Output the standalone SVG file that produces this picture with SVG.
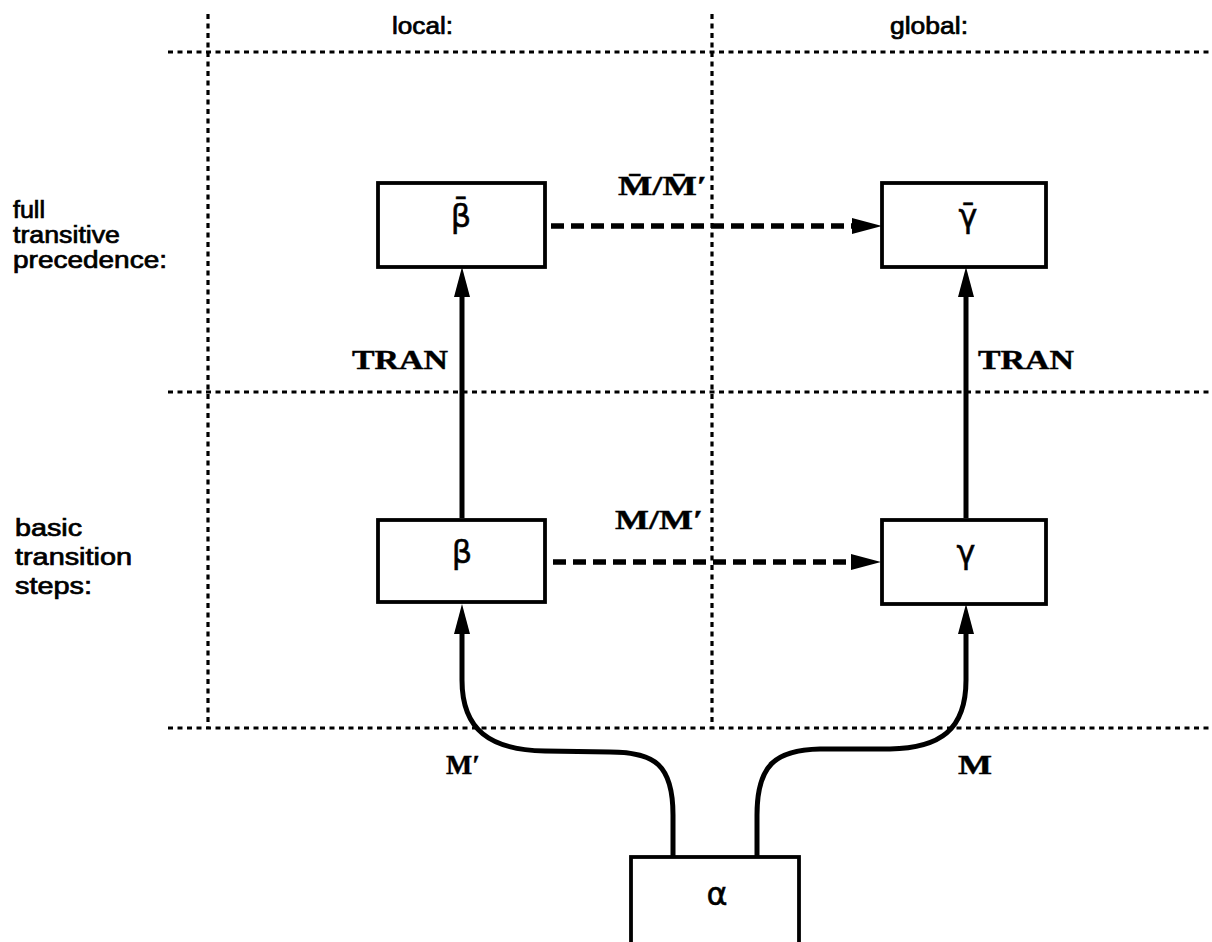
<svg xmlns="http://www.w3.org/2000/svg" width="1212" height="942" viewBox="0 0 1212 942">
<style>
.grid{stroke:#000;stroke-width:3.2;stroke-dasharray:5 4.5;fill:none}
.box{fill:#fff;stroke:#000;stroke-width:3.8}
.sans{font-family:"Liberation Sans",Arial,sans-serif;font-size:23px;fill:#000;stroke:#000;stroke-width:0.7}
.ser{font-family:"Liberation Serif","Times New Roman",serif;font-weight:bold;font-size:28px;fill:#000;stroke:#000;stroke-width:0.4}
.greek{font-family:"DejaVu Sans",sans-serif;font-size:32px;fill:#000;text-anchor:middle;stroke:#000;stroke-width:0.5}
.solid{stroke:#000;stroke-width:5;fill:none}
.dash{stroke:#000;stroke-width:5.5;stroke-dasharray:13 7;fill:none}
</style>
<defs>
<marker id="ah" viewBox="0 0 30 16" refX="10" refY="8" markerWidth="30" markerHeight="16" markerUnits="userSpaceOnUse" orient="auto">
<path d="M0,0 L30,8 L0,16 z" fill="#000"/>
</marker>
</defs>
<g id="grid">
<line class="grid" x1="168" y1="52" x2="1212" y2="52"/>
<line class="grid" x1="168" y1="392" x2="1212" y2="392"/>
<line class="grid" x1="168" y1="728" x2="1212" y2="728"/>
<line class="grid" x1="208" y1="14" x2="208" y2="728"/>
<line class="grid" x1="712" y1="14" x2="712" y2="728"/>
</g>
<g id="labels">
<text class="sans" x="392" y="34" textLength="61" lengthAdjust="spacingAndGlyphs">local:</text>
<text class="sans" x="890" y="34" textLength="78" lengthAdjust="spacingAndGlyphs">global:</text>
<text class="sans" x="13" y="218" textLength="32" lengthAdjust="spacingAndGlyphs">full</text>
<text class="sans" x="13" y="243" textLength="107" lengthAdjust="spacingAndGlyphs">transitive</text>
<text class="sans" x="13" y="268" textLength="154" lengthAdjust="spacingAndGlyphs">precedence:</text>
<text class="sans" x="15" y="536" textLength="67" lengthAdjust="spacingAndGlyphs">basic</text>
<text class="sans" x="15" y="565" textLength="117" lengthAdjust="spacingAndGlyphs">transition</text>
<text class="sans" x="15" y="594" textLength="77" lengthAdjust="spacingAndGlyphs">steps:</text>
</g>
<g id="connectors">
<line class="dash" x1="551" y1="226" x2="862" y2="226" marker-end="url(#ah)"/>
<line class="dash" x1="553" y1="562" x2="861" y2="562" marker-end="url(#ah)"/>
<line class="solid" x1="462" y1="518" x2="462" y2="287" marker-end="url(#ah)"/>
<line class="solid" x1="966" y1="518" x2="966" y2="287" marker-end="url(#ah)"/>
<path class="solid" d="M673,857 L673,815 C673,765 655,752 610,752 L545,751 C490,750 462,730 462,680 L462,624" marker-end="url(#ah)"/>
<path class="solid" d="M757,857 L757,815 C757,765 775,750 820,749 L890,749 C940,748 966,730 966,680 L966,624" marker-end="url(#ah)"/>
<text class="ser" x="618" y="195" textLength="89" lengthAdjust="spacingAndGlyphs">M̄/M̄′</text>
<text class="ser" x="615" y="529" textLength="88" lengthAdjust="spacingAndGlyphs">M/M′</text>
<text class="ser" x="352" y="369" textLength="96" lengthAdjust="spacingAndGlyphs">TRAN</text>
<text class="ser" x="978" y="369" textLength="96" lengthAdjust="spacingAndGlyphs">TRAN</text>
<text class="ser" x="446" y="774" textLength="34" lengthAdjust="spacingAndGlyphs">M′</text>
<text class="ser" x="958" y="774" textLength="34" lengthAdjust="spacingAndGlyphs">M</text>
</g>
<g id="beta_bar">
<rect class="box" x="378" y="183" width="167" height="84"/>
<text class="greek" x="461" y="227">β̄</text>
</g>
<g id="gamma_bar">
<rect class="box" x="882" y="183" width="164" height="84"/>
<text class="greek" x="968" y="227">γ̄</text>
</g>
<g id="beta">
<rect class="box" x="378" y="520" width="167" height="82"/>
<text class="greek" x="462" y="563">β</text>
</g>
<g id="gamma">
<rect class="box" x="882" y="520" width="164" height="84"/>
<text class="greek" x="966" y="563">γ</text>
</g>
<g id="alpha">
<rect class="box" x="631" y="857" width="168" height="90"/>
<text class="greek" x="717" y="905">α</text>
</g>
</svg>
